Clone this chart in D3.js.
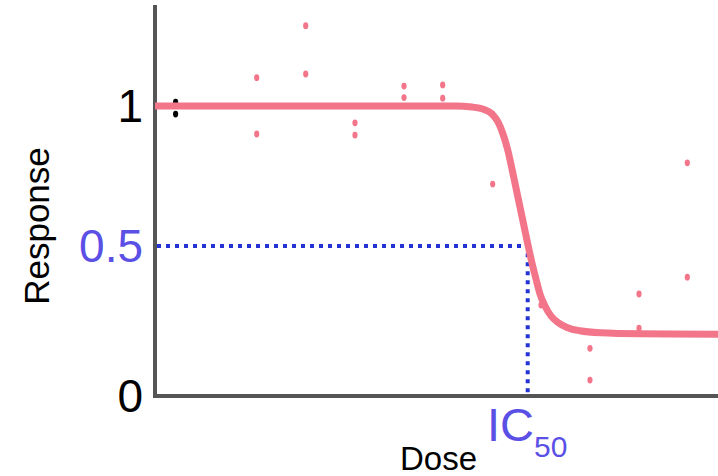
<!DOCTYPE html>
<html>
<head>
<meta charset="utf-8">
<script src="https://cdn.jsdelivr.net/npm/d3@7"></script>
<style>
  html, body { margin: 0; padding: 0; background: #fff; }
  svg { display: block; font-family: "Liberation Sans", Arial, sans-serif; }
</style>
</head>
<body>
<div id="chart"></div>
<script>
// dose-response curve with IC50 marker
const W = 718, H = 476;

// fitted curve (dose units are arbitrary 0..100)
const curveDose = [0, 53.29, 56.31, 58.44, 59.86, 60.92, 61.81, 62.70, 63.41, 64.12, 64.83, 65.54, 66.25,
  66.96, 67.67, 68.38, 69.27, 70.34, 71.58, 73.18, 75.49, 79.04, 86.15, 100];
const curveResp = [1.0, 1.0, 0.9964, 0.9875, 0.9714, 0.9429, 0.9, 0.8393, 0.775, 0.7071, 0.6393, 0.5714, 0.5036,
  0.4433, 0.39, 0.34, 0.30, 0.2667, 0.245, 0.2283, 0.2173, 0.2107, 0.2073, 0.206];

// replicate measurements
const pointDose = [18.06, 18.06, 26.77, 26.77, 35.52, 35.52, 44.23, 44.23, 51.1, 51.1, 59.98, 59.98, 68.56, 77.26, 77.26, 85.97, 85.97, 94.55, 94.55];
const pointResp = [1.101, 0.9, 1.286, 1.114, 0.94, 0.896, 1.071, 1.03, 1.075, 1.028, 0.971, 0.721, 0.303, 0.159, 0.053, 0.34, 0.226, 0.797, 0.396];

// control points (drawn black)
const ctrlDose = [3.66, 3.66];
const ctrlResp = [1.014, 0.971];

const yTicks = [0, 0.5, 1];
const yTickLabels = ["0", "0.5", "1"];
const ic50 = 66.2;
const halfResp = 0.5;

const PINK = "#f2758a", AXIS = "#555", DOT_BLUE = "#2434d4", LABEL_PURPLE = "#5b50e6";

const svg = d3.select("#chart").append("svg").attr("width", W).attr("height", H);

const x = d3.scaleLinear().domain([0, 100]).range([155, 718]);
// the picture's vertical spacing is uneven, so use a piecewise scale
const y = d3.scaleLinear().domain([0, 0.5, 1, 1.36]).range([396, 246, 106, 5]);

// axes (no ticks, just the L-shaped frame)
svg.append("path")
  .attr("d", `M${x(0)},${y(1.36)}V${y(0)}H${x(100)}`)
  .attr("fill", "none")
  .attr("stroke", AXIS)
  .attr("stroke-width", 4);

svg.selectAll(".ytick").data(yTicks).join("text")
  .attr("class", "ytick")
  .attr("x", 143)
  .attr("y", d => y(d))
  .attr("dy", "0.35em")
  .attr("text-anchor", "end")
  .attr("font-size", 46)
  .attr("fill", d => d === halfResp ? LABEL_PURPLE : "#000")
  .text((d, i) => yTickLabels[i]);

// IC50 guides
svg.append("path")
  .attr("d", `M${x(0) + 2},${y(halfResp)}H${x(ic50)}V${y(0) - 2}`)
  .attr("fill", "none")
  .attr("stroke", DOT_BLUE)
  .attr("stroke-width", 4)
  .attr("stroke-dasharray", "4,5");

// data points
svg.selectAll(".pt").data(pointDose).join("ellipse")
  .attr("class", "pt")
  .attr("cx", d => x(d))
  .attr("cy", (d, i) => y(pointResp[i]))
  .attr("rx", 2.6).attr("ry", 3.4)
  .attr("fill", PINK);

svg.selectAll(".ctrl").data(ctrlDose).join("ellipse")
  .attr("class", "ctrl")
  .attr("cx", d => x(d))
  .attr("cy", (d, i) => y(ctrlResp[i]))
  .attr("rx", 2.6).attr("ry", 3.4)
  .attr("fill", "#000");

// fitted curve
const line = d3.line()
  .x(d => x(d[0]))
  .y(d => y(d[1]))
  .curve(d3.curveMonotoneX);

svg.append("path")
  .datum(d3.zip(curveDose, curveResp))
  .attr("d", line)
  .attr("fill", "none")
  .attr("stroke", PINK)
  .attr("stroke-width", 7)
  .attr("stroke-linecap", "butt");

// labels
svg.append("text")
  .attr("transform", "translate(49,226) rotate(-90)")
  .attr("text-anchor", "middle")
  .attr("font-size", 35)
  .attr("fill", "#000")
  .text("Response");

svg.append("text")
  .attr("x", 400).attr("y", 470)
  .attr("font-size", 33)
  .attr("fill", "#000")
  .text("Dose");

const ic = svg.append("text")
  .attr("x", 487).attr("y", 441)
  .attr("font-size", 47)
  .attr("fill", LABEL_PURPLE);
ic.append("tspan").text("IC");
ic.append("tspan").attr("font-size", 30).attr("dy", 16).text("50");
</script>
</body>
</html>
